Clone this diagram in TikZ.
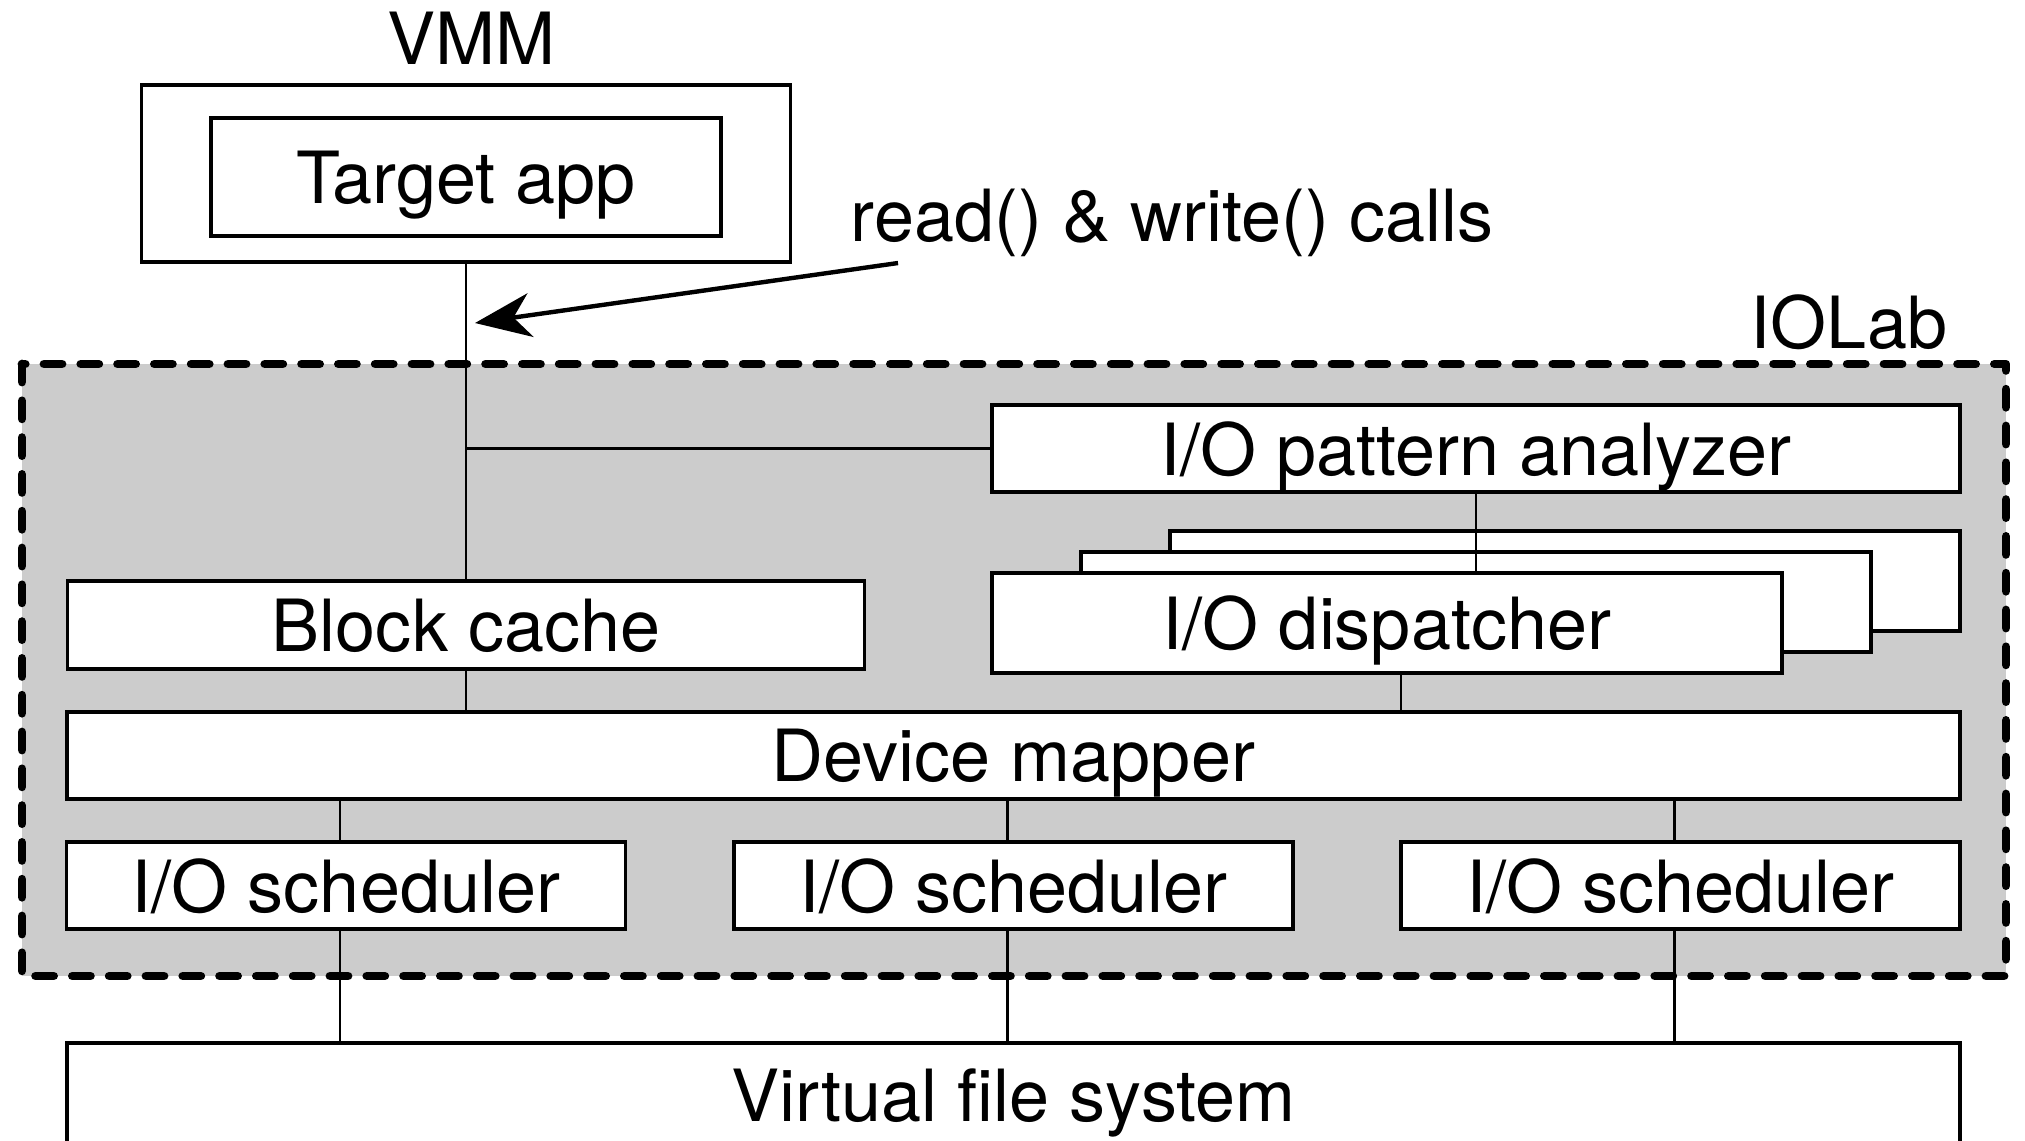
\documentclass[tikz,border=0pt]{standalone}
\usepackage{fontspec}
\setmainfont{TeX Gyre Heros}
\usetikzlibrary{arrows.meta}
\definecolor{cc}{RGB}{204, 204, 204}

\begin{document}
\begin{tikzpicture}[x=0.25pt, y=-0.25pt,
  every node/.style={inner sep=0pt, text depth=0pt, font=\fontsize{18pt}{21pt}\selectfont},
  box/.style={draw=black, fill=white, line width=0.9pt},
  link/.style={line width=0.6pt, color=black}]
\useasboundingbox (0,0) rectangle (2025,1140);
% IOLab area
\draw [fill=cc, line width=2.2pt, line cap=round, line join=round, dash pattern=on 4.5pt off 4.7pt] (22,364) rectangle (2006,976);
\node (0) at (1849,322) {IOLab};
% VMM
\node (v) at (471,38) {VMM};
\node (1) [box, minimum width=162.25pt, minimum height=44.25pt] at (466,173.5) {};
\node (2) [box, minimum width=127.5pt, minimum height=29.5pt] at (466,177) {Target app};
\node (r) [anchor=west] at (850,215) {read() \& write() calls};
\coordinate (a) at (898,263);
\coordinate (b) at (475,323);
\draw [line width=1.1pt, -{Stealth[length=14pt, width=11pt, inset=4.3pt]}] (a) -- (b);
% boxes inside
\node (3) [box, minimum width=242pt, minimum height=21.75pt] at (1476,448.5) {I/O pattern analyzer};
\node (4) [box, minimum width=197.5pt, minimum height=25pt] at (1565,581) {};
\node (5) [box, minimum width=197.5pt, minimum height=25pt] at (1476,602) {};
\node (6) [box, minimum width=197.5pt, minimum height=25pt] at (1387,623) {I/O dispatcher};
\node (7) [box, minimum width=199.25pt, minimum height=22pt] at (466,625) {Block cache};
\node (8) [box, minimum width=473.25pt, minimum height=21.75pt] at (1013.5,755.5) {Device mapper};
\node (9) [box, minimum width=139.75pt, minimum height=21.75pt] at (346,885.5) {I/O scheduler};
\node (10) [box, minimum width=139.75pt, minimum height=21.75pt] at (1013.5,885.5) {I/O scheduler};
\node (11) [box, minimum width=139.75pt, minimum height=21.75pt] at (1680.5,885.5) {I/O scheduler};
\node (12) [box, minimum width=473.25pt, minimum height=26pt] at (1013.5,1095) {Virtual file system};
% links
\draw [link] (1.south) -- (7.north);
\draw [link] (1.south |- 3.west) -- (3.west);
\draw [link] (3.south) -- (3.south |- 6.north);
\draw [link] (7.south) -- (7.south |- 8.north);
\draw [link] ([xshift=3.5pt]6.south) -- ([xshift=3.5pt]6.south |- 8.north);
\foreach \s in {9, 10, 11} {
  \draw [link] ([xshift=-1.5pt]\s.north |- 8.south) -- ([xshift=-1.5pt]\s.north);
  \draw [link] ([xshift=-1.5pt]\s.south) -- ([xshift=-1.5pt]\s.south |- 12.north);
}
\end{tikzpicture}
\end{document}
